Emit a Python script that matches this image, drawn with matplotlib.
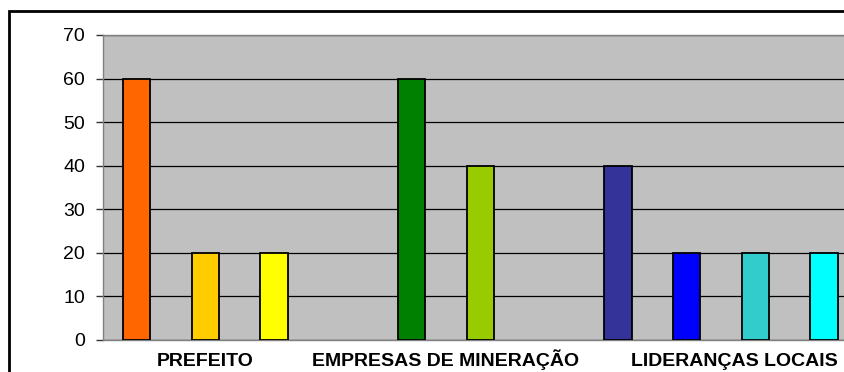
import matplotlib
matplotlib.use("Agg")
import matplotlib.pyplot as plt
from matplotlib.patches import Rectangle
import matplotlib.transforms as mtransforms

# Groups of bars: each group is one actor, each bar one response share (%)
categories = ["PREFEITO", "EMPRESAS DE MINERAÇÃO", "LIDERANÇAS LOCAIS"]
prefeito_vals = [60, 20, 20]
empresas_vals = [60, 40]
liderancas_vals = [40, 20, 20, 20]

prefeito_colors = ["#FF6600", "#FFCC00", "#FFFF00"]
empresas_colors = ["#008000", "#99CC00"]
liderancas_colors = ["#333399", "#0000FF", "#33CCCC", "#00FFFF"]

y_ticks = [0, 10, 20, 30, 40, 50, 60, 70]

groups = [prefeito_vals, empresas_vals, liderancas_vals]
group_colors = [prefeito_colors, empresas_colors, liderancas_colors]

plt.rcParams["font.family"] = ["Liberation Sans", "DejaVu Sans"]

W, H = 845, 372
fig = plt.figure(figsize=(W / 100, H / 100), dpi=100)
fig.patch.set_facecolor("white")

# outer chart frame (extends past the right and bottom edges)
fig.add_artist(Rectangle((9.5 / W, -0.1), 1.2, (H - 11) / H + 0.1,
                         transform=fig.transFigure, fill=False,
                         edgecolor="black", linewidth=2.0, clip_on=False))

ax = fig.add_axes([103 / W, 32 / H, 1 - 103 / W + 0.002, 305 / H])
ax.set_facecolor("#C0C0C0")

# place groups on a common slot grid, one empty slot between groups
slot = 0
centers = []
for vals, cols in zip(groups, group_colors):
    xs = list(range(slot, slot + len(vals)))
    ax.bar(xs, vals, width=0.40, color=cols, edgecolor="black",
           linewidth=1.3, zorder=3)
    centers.append(sum(xs) / len(xs))
    slot += len(vals) + 1

ax.set_xlim(-0.488, 10.33)
ax.set_ylim(0, 70)
ax.set_yticks(y_ticks)
ax.yaxis.grid(True, color="black", linewidth=0.9, zorder=1)
ax.set_axisbelow(True)

for side in ["left", "bottom", "top"]:
    ax.spines[side].set_color("#808080")
    ax.spines[side].set_linewidth(1.0)
ax.spines["right"].set_visible(False)

ax.tick_params(axis="y", direction="out", length=5, width=1.0,
               color="#333333", pad=8, labelsize=14)
ax.set_xticks([])

# category names under each group, on a shared baseline
trans = mtransforms.blended_transform_factory(ax.transData, ax.transAxes)
for i, (name, cx) in enumerate(zip(categories, centers)):
    t = trans
    if i == len(categories) - 1:
        # the last name sits a little to the right, ending near the edge
        t = trans + mtransforms.ScaledTranslation(13 / 100, 0, fig.dpi_scale_trans)
    ax.text(cx, -26 / 305, name, transform=t, ha="center", va="baseline",
            fontsize=14, fontweight="bold", clip_on=False)

fig.savefig("out.png", dpi=100)
